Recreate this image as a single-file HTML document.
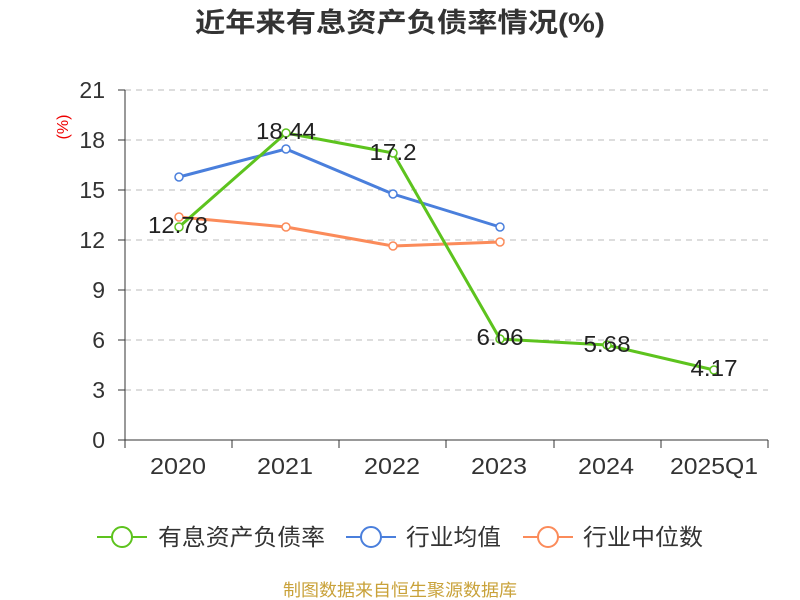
<!DOCTYPE html>
<html><head><meta charset="utf-8"><style>body{margin:0;background:#fff}svg{display:block}text{font-family:"Liberation Sans","Noto Sans CJK SC",sans-serif}</style></head><body>
<svg width="800" height="600" viewBox="0 0 800 600">
<text x="400" y="32" text-anchor="middle" font-size="27" font-weight="bold" fill="#333" textLength="410" lengthAdjust="spacingAndGlyphs">近年来有息资产负债率情况(%)</text>
<text x="68" y="127" font-size="16" fill="#e00" transform="rotate(-90 68 127)" text-anchor="middle">(%)</text>
<g stroke="#bbb" stroke-dasharray="6,5" stroke-width="1">
<line x1="125" x2="768" y1="90" y2="90"/><line x1="125" x2="768" y1="140" y2="140"/><line x1="125" x2="768" y1="190" y2="190"/><line x1="125" x2="768" y1="240" y2="240"/><line x1="125" x2="768" y1="290" y2="290"/><line x1="125" x2="768" y1="340" y2="340"/><line x1="125" x2="768" y1="390" y2="390"/></g>
<g stroke="#333" stroke-width="1">
<line x1="125" x2="125" y1="90" y2="440"/><line x1="125" x2="768" y1="440" y2="440"/>
<line x1="118" x2="125" y1="90" y2="90"/><line x1="118" x2="125" y1="140" y2="140"/><line x1="118" x2="125" y1="190" y2="190"/><line x1="118" x2="125" y1="240" y2="240"/><line x1="118" x2="125" y1="290" y2="290"/><line x1="118" x2="125" y1="340" y2="340"/><line x1="118" x2="125" y1="390" y2="390"/><line x1="118" x2="125" y1="440" y2="440"/>
<line x1="125" x2="125" y1="440" y2="448"/><line x1="232" x2="232" y1="440" y2="448"/><line x1="339" x2="339" y1="440" y2="448"/><line x1="446" x2="446" y1="440" y2="448"/><line x1="554" x2="554" y1="440" y2="448"/><line x1="661" x2="661" y1="440" y2="448"/><line x1="768" x2="768" y1="440" y2="448"/></g>
<g font-size="23" fill="#333" text-anchor="end">
<text x="105" y="98">21</text><text x="105" y="148">18</text><text x="105" y="198">15</text><text x="105" y="248">12</text><text x="105" y="298">9</text><text x="105" y="348">6</text><text x="105" y="398">3</text><text x="105" y="448">0</text></g>
<g font-size="23" fill="#333" text-anchor="middle">
<text x="178" y="474" textLength="56" lengthAdjust="spacingAndGlyphs">2020</text><text x="285" y="474" textLength="56" lengthAdjust="spacingAndGlyphs">2021</text><text x="392" y="474" textLength="56" lengthAdjust="spacingAndGlyphs">2022</text><text x="499" y="474" textLength="56" lengthAdjust="spacingAndGlyphs">2023</text><text x="606" y="474" textLength="56" lengthAdjust="spacingAndGlyphs">2024</text><text x="714" y="474" textLength="88" lengthAdjust="spacingAndGlyphs">2025Q1</text></g>
<g fill="none" stroke-width="3">
<polyline stroke="#4a7fdc" points="179,177 286,149 393,194 500,227"/>
<polyline stroke="#fb8b5a" points="179,217 286,227 393,246 500,242"/>
<polyline stroke="#5dc31e" points="179,227 286,133 393,153 500,339 607,345 714,370"/></g>
<g fill="#fff" stroke-width="1.5">
<g stroke="#4a7fdc"><circle cx="179" cy="177" r="4"/><circle cx="286" cy="149" r="4"/><circle cx="393" cy="194" r="4"/><circle cx="500" cy="227" r="4"/></g>
<g stroke="#fb8b5a"><circle cx="179" cy="217" r="4"/><circle cx="286" cy="227" r="4"/><circle cx="393" cy="246" r="4"/><circle cx="500" cy="242" r="4"/></g>
<g stroke="#5dc31e"><circle cx="179" cy="227" r="4"/><circle cx="286" cy="133" r="4"/><circle cx="393" cy="153" r="4"/><circle cx="500" cy="339" r="4"/><circle cx="607" cy="345" r="4"/><circle cx="714" cy="370" r="4"/></g></g>
<g font-size="23" fill="#222" text-anchor="middle">
<text x="178" y="233" textLength="60" lengthAdjust="spacingAndGlyphs">12.78</text><text x="286" y="139" textLength="60" lengthAdjust="spacingAndGlyphs">18.44</text><text x="393" y="160" textLength="47" lengthAdjust="spacingAndGlyphs">17.2</text><text x="500" y="345" textLength="47" lengthAdjust="spacingAndGlyphs">6.06</text><text x="607" y="352" textLength="47" lengthAdjust="spacingAndGlyphs">5.68</text><text x="714" y="376" textLength="47" lengthAdjust="spacingAndGlyphs">4.17</text></g>
<g stroke-width="2" fill="#fff">
<line x1="97" x2="147" y1="537" y2="537" stroke="#5dc31e"/><circle cx="122" cy="537" r="10" stroke="#5dc31e"/>
<line x1="346" x2="396" y1="537" y2="537" stroke="#4a7fdc"/><circle cx="371" cy="537" r="10" stroke="#4a7fdc"/>
<line x1="523" x2="573" y1="537" y2="537" stroke="#fb8b5a"/><circle cx="548" cy="537" r="10" stroke="#fb8b5a"/></g>
<g font-size="23" fill="#333">
<text x="158" y="545" textLength="167" lengthAdjust="spacingAndGlyphs">有息资产负债率</text><text x="406" y="545" textLength="95" lengthAdjust="spacingAndGlyphs">行业均值</text><text x="583" y="545" textLength="120" lengthAdjust="spacingAndGlyphs">行业中位数</text></g>
<text x="400" y="596" text-anchor="middle" font-size="17" fill="#c9a23a" textLength="234" lengthAdjust="spacingAndGlyphs">制图数据来自恒生聚源数据库</text>
</svg></body></html>
